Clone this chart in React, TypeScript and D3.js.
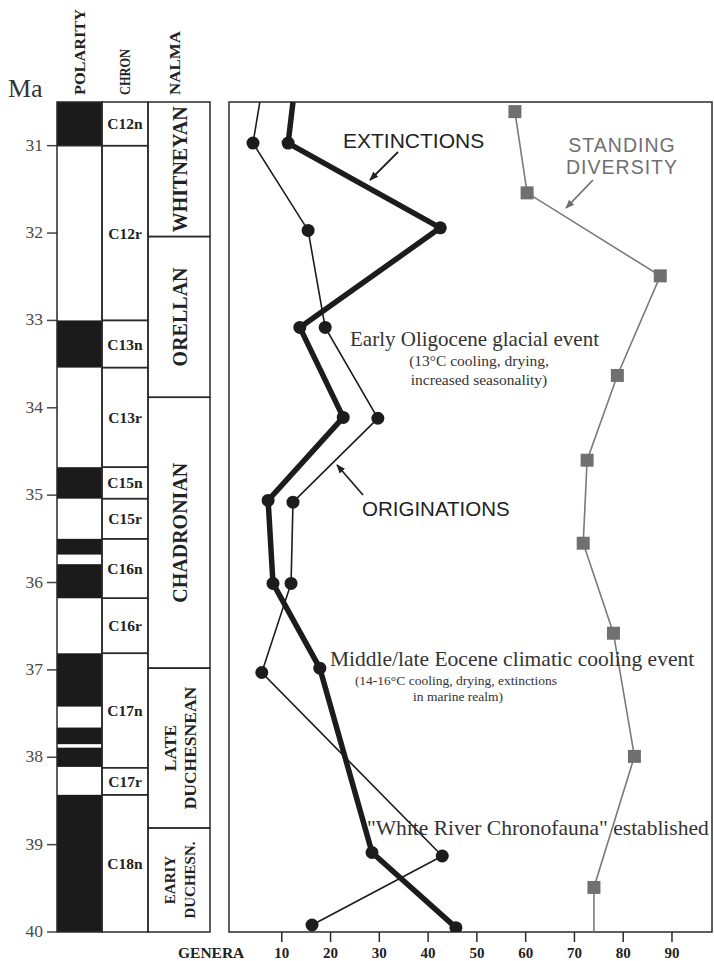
import * as d3 from 'd3';

// Ma ticks and genera ticks
const maTicks = [31, 32, 33, 34, 35, 36, 37, 38, 39, 40];
const generaTicks = [10, 20, 30, 40, 50, 60, 70, 80, 90];

// first point of each line is where it enters the top of the panel (no marker)
const extinctionMa = [30.5, 30.97, 31.94, 33.08, 34.11, 35.06, 36.01, 36.98, 39.09, 39.95];
const extinctionGenera = [12.3, 11.3, 42.5, 13.7, 22.6, 7.2, 8.2, 17.8, 28.5, 45.7];

const originationMa = [30.5, 30.97, 31.97, 33.08, 34.12, 35.08, 36.01, 37.03, 39.13, 39.92];
const originationGenera = [5.5, 4.1, 15.4, 18.9, 29.7, 12.3, 11.9, 5.9, 42.9, 16.2];

// last point is where the line leaves the bottom (no marker)
const diversityMa = [30.61, 31.54, 32.49, 33.63, 34.6, 35.55, 36.58, 37.99, 39.49, 40];
const diversityGenera = [57.8, 60.3, 87.6, 78.8, 72.6, 71.8, 78, 82.3, 74, 74];

const chronNames = ['C12n', 'C12r', 'C13n', 'C13r', 'C15n', 'C15r', 'C16n', 'C16r', 'C17n', 'C17r', 'C18n'];
const chronTops = [30.5, 31, 33, 33.54, 34.68, 35.04, 35.5, 36.18, 36.81, 38.12, 38.43];
const chronBases = [31, 33, 33.54, 34.68, 35.04, 35.5, 36.18, 36.81, 38.12, 38.43, 40];

// normal polarity (black) intervals
const normalTops = [30.5, 33, 34.68, 35.5, 35.79, 36.81, 37.66, 37.89, 38.43];
const normalBases = [31, 33.54, 35.04, 35.68, 36.18, 37.42, 37.85, 38.11, 40];

const nalmaNames = [['WHITNEYAN'], ['ORELLAN'], ['CHADRONIAN'], ['LATE', 'DUCHESNEAN'], ['EARIY', 'DUCHESN.']];
const nalmaTops = [30.5, 32.04, 33.88, 36.98, 38.81];
const nalmaBases = [32.04, 33.88, 36.98, 38.81, 40];

const SERIF = "'Liberation Serif', 'Times New Roman', serif";
const SANS = "'Liberation Sans', Arial, sans-serif";
const INK = '#222';
const GREY = '#6f6f6f';

export default function App() {
  const width = 714;
  const height = 961;
  const plot = { left: 229, right: 712, top: 102, bottom: 932 };
  const cols = { polL: 57, polR: 102, chrR: 148, nalR: 210 };

  const y = d3.scaleLinear().domain([30.5, 40]).range([plot.top, plot.bottom]);
  const x = d3.scaleLinear().domain([0, 98]).range([233, 711]);

  const line = d3
    .line<[number, number]>()
    .x((d) => x(d[1]))
    .y((d) => y(d[0]));

  const ext = extinctionMa.map((m, i) => [m, extinctionGenera[i]] as [number, number]);
  const orig = originationMa.map((m, i) => [m, originationGenera[i]] as [number, number]);
  const div = diversityMa.map((m, i) => [m, diversityGenera[i]] as [number, number]);

  // the two-line stage names are set smaller, the last one smallest
  const nalmaSize = (i: number) => (i === 4 ? 15 : i === 3 ? 17.5 : 20);

  return (
    <svg
      width={width}
      height={height}
      viewBox={`0 0 ${width} ${height}`}
      style={{ position: 'absolute', left: 0, top: 0, background: '#fff' }}
    >
      <defs>
        <clipPath id="plot-clip">
          <rect x={plot.left} y={plot.top} width={plot.right - plot.left} height={plot.bottom - plot.top} />
        </clipPath>
        <marker id="arrow-ink" viewBox="0 0 10 10" refX="9" refY="5" markerWidth="9" markerHeight="9" orient="auto" markerUnits="userSpaceOnUse">
          <path d="M0,1 L10,5 L0,9 Z" fill={INK} />
        </marker>
        <marker id="arrow-grey" viewBox="0 0 10 10" refX="9" refY="5" markerWidth="9" markerHeight="9" orient="auto" markerUnits="userSpaceOnUse">
          <path d="M0,1 L10,5 L0,9 Z" fill={GREY} />
        </marker>
      </defs>

      {/* column headers */}
      <text x={8} y={97} fontFamily={SERIF} fontSize={26} fill="#333">Ma</text>
      {[
        { label: 'POLARITY', cx: 80, len: 86 },
        { label: 'CHRON', cx: 125, len: 46 },
        { label: 'NALMA', cx: 175, len: 64 },
      ].map((h) => (
        <text
          key={h.label}
          transform={`translate(${h.cx},95) rotate(-90)`}
          dominantBaseline="central"
          fontFamily={SERIF}
          fontWeight="bold"
          fontSize={14}
          textLength={h.len}
          lengthAdjust="spacingAndGlyphs"
          fill={INK}
        >
          {h.label}
        </text>
      ))}

      {/* Ma axis */}
      {maTicks.map((t) => (
        <g key={t}>
          <line x1={47} x2={cols.polL} y1={y(t)} y2={y(t)} stroke="#444" strokeWidth={1.5} />
          <text x={43} y={y(t) + 5} textAnchor="end" fontFamily={SERIF} fontSize={17.5} fill="#4a4a4a">
            {t}
          </text>
        </g>
      ))}

      {/* polarity column */}
      {normalTops.map((t, i) => (
        <rect
          key={i}
          x={cols.polL}
          y={y(t)}
          width={cols.polR - cols.polL}
          height={y(normalBases[i]) - y(t)}
          fill="#1b1b1b"
        />
      ))}
      <rect
        x={cols.polL}
        y={plot.top}
        width={cols.polR - cols.polL}
        height={plot.bottom - plot.top}
        fill="none"
        stroke="#2a2a2a"
        strokeWidth={1.5}
      />

      {/* chron column */}
      {chronNames.map((c, i) => (
        <g key={c}>
          <rect
            x={cols.polR}
            y={y(chronTops[i])}
            width={cols.chrR - cols.polR}
            height={y(chronBases[i]) - y(chronTops[i])}
            fill="none"
            stroke="#2a2a2a"
            strokeWidth={1.5}
          />
          <text
            x={(cols.polR + cols.chrR) / 2}
            y={(y(chronTops[i]) + y(chronBases[i])) / 2}
            dominantBaseline="central"
            textAnchor="middle"
            fontFamily={SERIF}
            fontWeight="bold"
            fontSize={15.5}
            fill={INK}
          >
            {c}
          </text>
        </g>
      ))}
      <line x1={cols.polL} x2={cols.polR} y1={y(31)} y2={y(31)} stroke="#2a2a2a" strokeWidth={1.5} />

      {/* NALMA column */}
      {nalmaNames.map((lines, i) => {
        const cy = (y(nalmaTops[i]) + y(nalmaBases[i])) / 2;
        const cx = (cols.chrR + cols.nalR) / 2 + 1;
        return (
          <g key={lines.join(' ')}>
            <rect
              x={cols.chrR}
              y={y(nalmaTops[i])}
              width={cols.nalR - cols.chrR}
              height={y(nalmaBases[i]) - y(nalmaTops[i])}
              fill="none"
              stroke="#2a2a2a"
              strokeWidth={1.5}
            />
            {lines.map((l, j) => (
              <text
                key={l}
                transform={`translate(${cx + (j - (lines.length - 1) / 2) * 20},${cy}) rotate(-90)`}
                dominantBaseline="central"
                textAnchor="middle"
                fontFamily={SERIF}
                fontWeight="bold"
                fontSize={nalmaSize(i)}
                fill={INK}
              >
                {l}
              </text>
            ))}
          </g>
        );
      })}

      {/* plot frame */}
      <rect
        x={plot.left}
        y={plot.top}
        width={plot.right - plot.left}
        height={plot.bottom - plot.top}
        fill="none"
        stroke="#2a2a2a"
        strokeWidth={1.5}
      />

      {/* genera axis */}
      {generaTicks.map((t) => (
        <g key={t}>
          <line x1={x(t)} x2={x(t)} y1={plot.bottom} y2={plot.bottom + 10} stroke="#2a2a2a" strokeWidth={1.5} />
          <text x={x(t)} y={958} textAnchor="middle" fontFamily={SERIF} fontWeight="bold" fontSize={15} fill={INK}>
            {t}
          </text>
        </g>
      ))}
      <text x={178} y={958} fontFamily={SERIF} fontWeight="bold" fontSize={15.5} fill={INK}>
        GENERA
      </text>

      <g clipPath="url(#plot-clip)">
        {/* standing diversity */}
        <path d={line(div) ?? ''} fill="none" stroke="#7a7a7a" strokeWidth={1.6} />
        {div.slice(0, -1).map((d, i) => (
          <rect key={i} x={x(d[1]) - 6.5} y={y(d[0]) - 6.5} width={13} height={13} fill="#707070" />
        ))}

        {/* originations */}
        <path d={line(orig) ?? ''} fill="none" stroke="#1c1c1c" strokeWidth={1.6} />
        {orig.slice(1).map((d, i) => (
          <circle key={i} cx={x(d[1])} cy={y(d[0])} r={6.5} fill="#1c1c1c" />
        ))}

        {/* extinctions */}
        <path d={line(ext) ?? ''} fill="none" stroke="#1c1c1c" strokeWidth={5.5} strokeLinejoin="round" />
        {ext.slice(1).map((d, i) => (
          <circle key={i} cx={x(d[1])} cy={y(d[0])} r={6.5} fill="#1c1c1c" />
        ))}
      </g>

      {/* series labels */}
      <text x={343} y={148} fontFamily={SANS} fontSize={21} fill={INK}>EXTINCTIONS</text>
      <line x1={398} y1={152} x2={370} y2={180} stroke={INK} strokeWidth={1.8} markerEnd="url(#arrow-ink)" />

      <text x={362} y={516} fontFamily={SANS} fontSize={20.5} fill={INK}>ORIGINATIONS</text>
      <line x1={363} y1={495} x2={337} y2={465} stroke={INK} strokeWidth={1.8} markerEnd="url(#arrow-ink)" />

      <text x={622} y={152} textAnchor="middle" fontFamily={SANS} fontSize={19.5} letterSpacing={1} fill={GREY}>
        STANDING
      </text>
      <text x={622} y={174} textAnchor="middle" fontFamily={SANS} fontSize={19.5} letterSpacing={1} fill={GREY}>
        DIVERSITY
      </text>
      <line x1={593} y1={180} x2={566} y2={208} stroke={GREY} strokeWidth={1.8} markerEnd="url(#arrow-grey)" />

      {/* event notes */}
      <text x={350} y={346} fontFamily={SERIF} fontSize={21} fill="#333">Early Oligocene glacial event</text>
      <text x={479} y={366} textAnchor="middle" fontFamily={SERIF} fontSize={15.5} fill="#333">
        (13°C cooling, drying,
      </text>
      <text x={479} y={385} textAnchor="middle" fontFamily={SERIF} fontSize={15.5} fill="#333">
        increased seasonality)
      </text>

      <text x={330} y={666} fontFamily={SERIF} fontSize={21.5} fill="#333">
        Middle/late Eocene climatic cooling event
      </text>
      <text x={456} y={685} textAnchor="middle" fontFamily={SERIF} fontSize={13.5} fill="#333">
        (14-16°C cooling, drying, extinctions
      </text>
      <text x={458} y={701} textAnchor="middle" fontFamily={SERIF} fontSize={13.5} fill="#333">
        in marine realm)
      </text>

      <text x={367} y={835} fontFamily={SERIF} fontSize={21.5} fill="#333">
        "White River Chronofauna" established
      </text>
    </svg>
  );
}
